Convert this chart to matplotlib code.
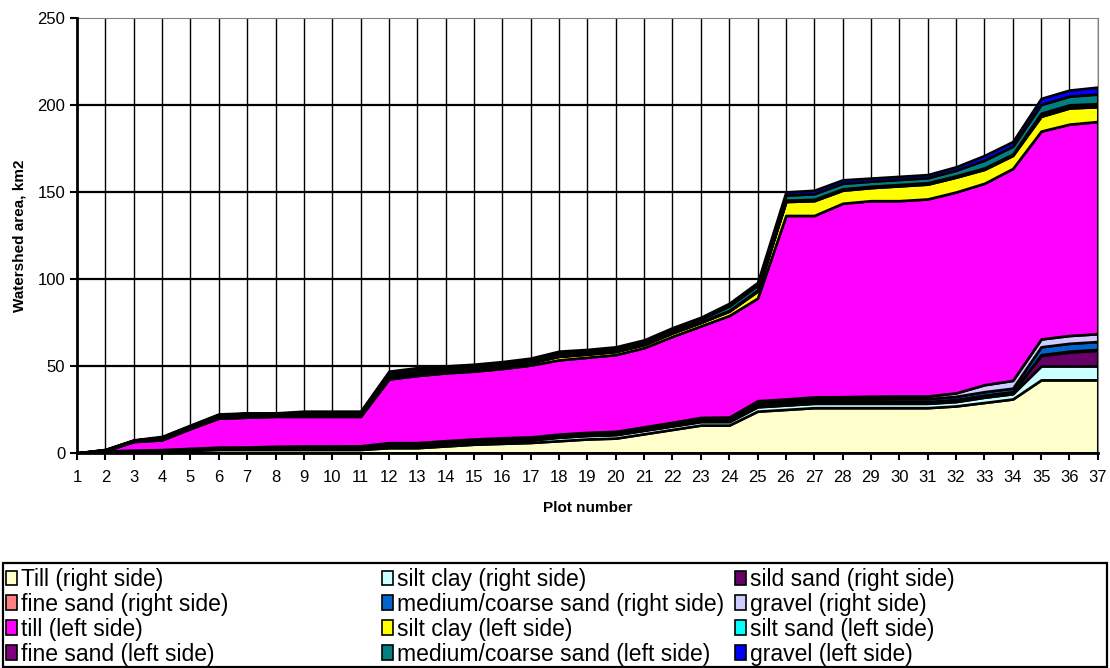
import numpy as np
import matplotlib
matplotlib.use('Agg')
import matplotlib.pyplot as plt
from matplotlib.patches import Rectangle

plt.rcParams['font.family'] = ['Liberation Sans', 'DejaVu Sans']

plots = np.arange(1, 38)

# right side of the watershed, km2 per plot
till_r = [0, 0.5, 0.8, 1, 1.5, 2, 2, 2, 2, 2, 2, 3, 3, 4, 5, 5.5, 6, 7, 8, 8.5,
          11, 13.5, 16, 16, 24, 25, 26, 26, 26, 26, 26, 27, 29, 31, 42, 42, 42]
siltclay_r = [0, 0.2, 0.3, 0.3, 0.4, 0.5, 0.5, 0.8, 1, 1, 1, 1.5, 1.5, 1.5, 1.5, 1.5, 1.5, 2, 2, 2,
              2, 2, 2, 2, 2.5, 2.5, 2.5, 2.5, 2.5, 2.5, 2.5, 2.5, 3, 3, 8, 8, 8]
sildsand_r = [0, 0.1, 0.1, 0.1, 0.1, 0.2, 0.2, 0.2, 0.2, 0.2, 0.2, 0.3, 0.3, 0.3, 0.3, 0.3, 0.3, 0.3, 0.3, 0.3,
              0.3, 0.3, 0.5, 0.5, 0.8, 0.8, 0.8, 0.8, 0.8, 0.8, 0.8, 1, 1, 1, 6, 8, 9]
finesand_r = [0, 0.1, 0.1, 0.1, 0.1, 0.1, 0.1, 0.1, 0.1, 0.1, 0.1, 0.2, 0.2, 0.2, 0.2, 0.2, 0.2, 0.2, 0.2, 0.2,
              0.2, 0.2, 0.2, 0.2, 0.2, 0.2, 0.2, 0.2, 0.2, 0.2, 0.2, 0.2, 0.2, 0.2, 0.5, 0.5, 0.5]
medcoarse_r = [0, 0.1, 0.2, 0.2, 0.3, 0.3, 0.3, 0.4, 0.4, 0.4, 0.5, 0.5, 0.5, 0.6, 0.6, 0.7, 0.7, 0.8, 0.8, 0.8,
               0.9, 1, 1, 1.2, 1.5, 1.5, 1.5, 1.6, 1.6, 1.7, 1.7, 1.8, 2, 2, 4.5, 4.5, 4.5]
gravel_r = [0, 0.1, 0.1, 0.2, 0.2, 0.2, 0.3, 0.3, 0.3, 0.3, 0.3, 0.4, 0.4, 0.4, 0.4, 0.5, 0.5, 0.5, 0.5, 0.6,
            0.6, 0.6, 0.7, 0.7, 1, 1, 1.2, 1.2, 1.5, 1.5, 1.5, 2, 4, 4.5, 4.5, 4.5, 4.5]

# left side of the watershed, km2 per plot
till_l = [0, 0.2, 4.9, 5.6, 11.4, 16.7, 17.1, 17.2, 17.0, 17.0, 16.9, 36.6, 38.6, 39.0, 39.0, 39.8, 41.3, 42.7, 43.2, 44.1,
          45.5, 49.4, 52.6, 58.4, 59.0, 105.5, 104.3, 111.2, 112.4, 112.3, 113.3, 115.5, 115.8, 121.8, 119.5, 121.5, 122.0]
siltclay_l = [0, 0.2, 0.3, 0.5, 0.5, 1, 1.5, 0.5, 0.8, 0.8, 0.8, 1.5, 1.5, 1.5, 1.5, 1.5, 1.5, 2, 1.8, 1.8,
              1.8, 2, 2, 2.5, 4, 8, 8.5, 7.5, 7.5, 8.5, 8.5, 8.5, 8, 7.5, 8.5, 9.3, 8.5]
siltsand_l = [0, 0.1, 0.1, 0.1, 0.2, 0.2, 0.2, 0.2, 0.2, 0.2, 0.2, 0.2, 0.2, 0.2, 0.2, 0.2, 0.2, 0.2, 0.2, 0.2,
              0.2, 0.2, 0.2, 0.2, 0.3, 0.5, 0.5, 0.5, 0.5, 0.5, 0.5, 0.5, 0.5, 0.5, 1.5, 1.5, 1.5]
finesand_l = [0, 0.1, 0.1, 0.1, 0.1, 0.1, 0.1, 0.1, 0.1, 0.1, 0.1, 0.2, 0.2, 0.2, 0.2, 0.2, 0.2, 0.2, 0.2, 0.2,
              0.2, 0.2, 0.2, 0.2, 0.3, 0.3, 0.3, 0.3, 0.3, 0.3, 0.3, 0.3, 0.3, 0.3, 0.3, 0.3, 0.3]
medcoarse_l = [0, 0.2, 0.3, 0.8, 0.8, 0.7, 0.4, 0.8, 1.2, 1.2, 1.2, 1.6, 1.6, 1.3, 1.3, 1.3, 1.3, 1.6, 1.4, 1.4,
               1.4, 1.6, 1.6, 2.6, 2.8, 2.9, 3.2, 3.2, 2.9, 2.9, 2.9, 3.2, 4.5, 4.5, 5, 5, 5.5]
gravel_l = [0, 0.1, 0.2, 0.5, 0.4, 0.4, 0.3, 0.4, 0.7, 0.7, 0.7, 1.0, 1.0, 0.8, 0.8, 0.8, 0.8, 1.0, 0.9, 0.9,
            0.9, 1.0, 1.0, 1.5, 1.6, 1.8, 2.0, 2.0, 1.8, 1.8, 1.8, 2.0, 2.7, 2.7, 3.5, 3.5, 4]

labels = ['Till (right side)', 'silt clay (right side)', 'sild sand (right side)',
          'fine sand (right side)', 'medium/coarse sand (right side)', 'gravel (right side)',
          'till (left side)', 'silt clay (left side)', 'silt sand (left side)',
          'fine sand (left side)', 'medium/coarse sand (left side)', 'gravel (left side)']
colors = ['#FFFFCC', '#CCFFFF', '#660066', '#FF8080', '#0066CC', '#CCCCFF',
          '#FF00FF', '#FFFF00', '#00FFFF', '#800080', '#008080', '#0000FF']

series = [till_r, siltclay_r, sildsand_r, finesand_r, medcoarse_r, gravel_r,
          till_l, siltclay_l, siltsand_l, finesand_l, medcoarse_l, gravel_l]

fig = plt.figure(figsize=(11.1, 6.68), dpi=100)
ax = fig.add_axes([0.0694, 0.322, 0.9196, 0.651])

polys = ax.stackplot(plots, *series, labels=labels, colors=colors,
                     edgecolor='black', linewidth=1.9)

ax.set_xlim(1, 37)
ax.set_ylim(0, 250)
ax.set_xticks(plots)
ax.set_yticks(np.arange(0, 251, 50))

# gridlines behind the areas
ax.set_axisbelow(True)
for xv in plots[1:]:
    ax.axvline(xv, color='black', lw=1.0, zorder=0)
for yv in [50, 100, 150, 200]:
    ax.axhline(yv, color='black', lw=1.6, zorder=0)

ax.spines['left'].set_linewidth(2)
ax.spines['bottom'].set_linewidth(2)
ax.spines['top'].set_color('#808080')
ax.spines['right'].set_color('#808080')
ax.spines['left'].set_zorder(5)
ax.spines['bottom'].set_zorder(5)

ax.tick_params(axis='both', direction='out', length=5, width=1.5, labelsize=12, colors='black')
ax.tick_params(axis='x', pad=7)

ax.set_xlabel('Plot number', fontsize=11, fontweight='bold', labelpad=12)
ax.set_ylabel('Watershed area, km2', fontsize=11, fontweight='bold', labelpad=8)

# legend: three columns, each filled top to bottom, inside one frame
fig.add_artist(Rectangle((3 / 1110, 1.5 / 668), 1104 / 1110, 104 / 668,
                         transform=fig.transFigure, fill=False,
                         edgecolor='black', linewidth=1.6))
col_x = [6 / 1110, 382 / 1110, 735 / 1110]
for c in range(3):
    idx = [c, c + 3, c + 6, c + 9]
    lg = fig.legend([polys[i] for i in idx], [labels[i] for i in idx],
                    loc='upper left', bbox_to_anchor=(col_x[c], 1 - 568 / 668),
                    fontsize=16.5, frameon=False,
                    handlelength=0.5, handleheight=0.6, handletextpad=0.15,
                    borderaxespad=0, labelspacing=0.08, borderpad=0)
    for h in lg.legend_handles:
        h.set_linewidth(1.2)

fig.savefig('out.png', dpi=100)
